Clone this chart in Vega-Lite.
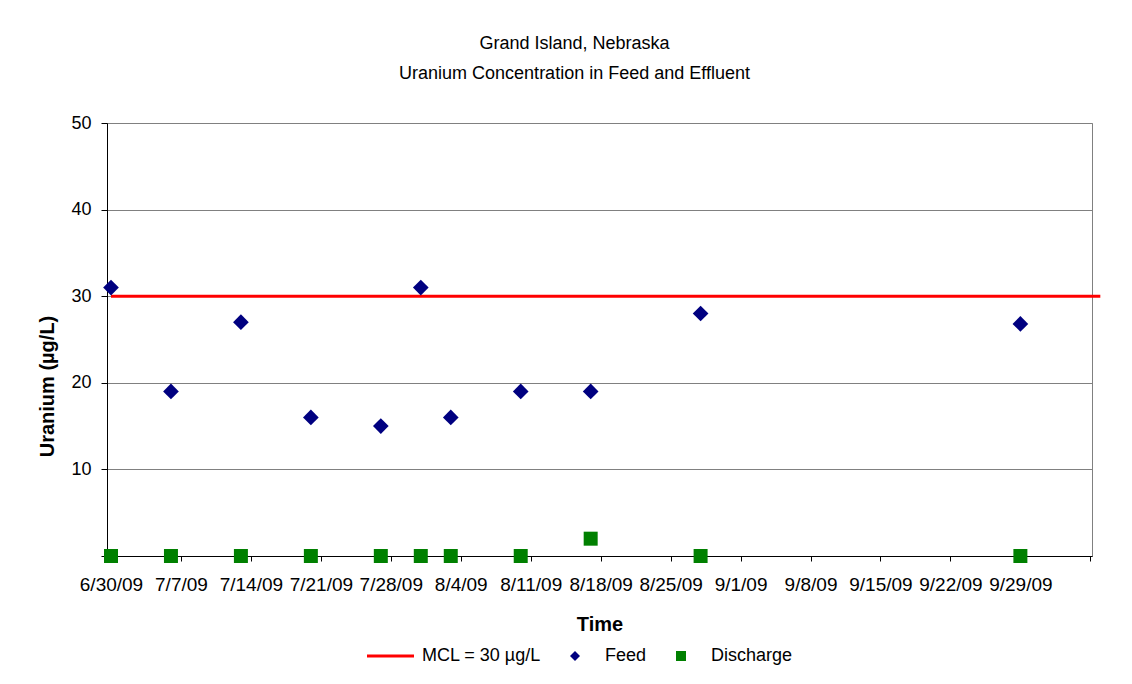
{
  "$schema": "https://vega.github.io/schema/vega-lite/v6.json",
  "autosize": {"type": "none"},
  "padding": {"left": 107, "top": 123, "right": 40, "bottom": 128},
  "width": 985,
  "height": 433,
  "background": "white",
  "config": {
    "font": "Liberation Sans",
    "view": {"stroke": "#808080", "strokeWidth": 1}
  },
  "title": {
    "text": ["Grand Island, Nebraska", "Uranium Concentration in Feed and Effluent"],
    "anchor": "middle",
    "frame": "group",
    "font": "Liberation Sans",
    "fontSize": 18,
    "fontWeight": "normal",
    "color": "black",
    "lineHeight": 30,
    "dx": -25,
    "offset": 31
  },
  "datasets": {
    "mcl": [
      {"date": "2009-06-30T00:00:00", "value": 30},
      {"date": "2009-10-07T00:00:00", "value": 30}
    ],
    "feed": [
      {"date": "2009-06-30T00:00:00", "series": "Feed", "value": 31},
      {"date": "2009-07-06T00:00:00", "series": "Feed", "value": 19},
      {"date": "2009-07-13T00:00:00", "series": "Feed", "value": 27},
      {"date": "2009-07-20T00:00:00", "series": "Feed", "value": 16},
      {"date": "2009-07-27T00:00:00", "series": "Feed", "value": 15},
      {"date": "2009-07-31T00:00:00", "series": "Feed", "value": 31},
      {"date": "2009-08-03T00:00:00", "series": "Feed", "value": 16},
      {"date": "2009-08-10T00:00:00", "series": "Feed", "value": 19},
      {"date": "2009-08-17T00:00:00", "series": "Feed", "value": 19},
      {"date": "2009-08-28T00:00:00", "series": "Feed", "value": 28},
      {"date": "2009-09-29T00:00:00", "series": "Feed", "value": 26.8}
    ],
    "discharge": [
      {"date": "2009-06-30T00:00:00", "series": "Discharge", "value": 0},
      {"date": "2009-07-06T00:00:00", "series": "Discharge", "value": 0},
      {"date": "2009-07-13T00:00:00", "series": "Discharge", "value": 0},
      {"date": "2009-07-20T00:00:00", "series": "Discharge", "value": 0},
      {"date": "2009-07-27T00:00:00", "series": "Discharge", "value": 0},
      {"date": "2009-07-31T00:00:00", "series": "Discharge", "value": 0},
      {"date": "2009-08-03T00:00:00", "series": "Discharge", "value": 0},
      {"date": "2009-08-10T00:00:00", "series": "Discharge", "value": 0},
      {"date": "2009-08-17T00:00:00", "series": "Discharge", "value": 2},
      {"date": "2009-08-28T00:00:00", "series": "Discharge", "value": 0},
      {"date": "2009-09-29T00:00:00", "series": "Discharge", "value": 0}
    ]
  },
  "encoding": {
    "x": {
      "field": "date",
      "type": "temporal",
      "scale": {
        "domain": [
          {"year": 2009, "month": 6, "date": 29, "hours": 14, "minutes": 24},
          {"year": 2009, "month": 10, "date": 6, "hours": 4}
        ],
        "nice": false
      },
      "axis": {
        "values": [
          {"year": 2009, "month": 6, "date": 30},
          {"year": 2009, "month": 7, "date": 7},
          {"year": 2009, "month": 7, "date": 14},
          {"year": 2009, "month": 7, "date": 21},
          {"year": 2009, "month": 7, "date": 28},
          {"year": 2009, "month": 8, "date": 4},
          {"year": 2009, "month": 8, "date": 11},
          {"year": 2009, "month": 8, "date": 18},
          {"year": 2009, "month": 8, "date": 25},
          {"year": 2009, "month": 9, "date": 1},
          {"year": 2009, "month": 9, "date": 8},
          {"year": 2009, "month": 9, "date": 15},
          {"year": 2009, "month": 9, "date": 22},
          {"year": 2009, "month": 9, "date": 29},
          {"year": 2009, "month": 10, "date": 6}
        ],
        "format": "%-m/%-d/%y",
        "labelExpr": "datum.value > datetime(2009, 9, 1) ? '' : datum.label",
        "grid": false,
        "tickSize": 5,
        "tickColor": "black",
        "domainColor": "black",
        "labelColor": "black",
        "labelFontSize": 19,
        "labelPadding": 14,
        "labelFlush": false,
        "labelOverlap": false,
        "labelBound": false,
        "title": "Time",
        "titleColor": "black",
        "titleFontSize": 20,
        "titleFontWeight": "bold",
        "titlePadding": 20
      }
    },
    "y": {
      "field": "value",
      "type": "quantitative",
      "scale": {"domain": [0, 50], "nice": false, "zero": true},
      "axis": {
        "values": [0, 10, 20, 30, 40, 50],
        "labelExpr": "datum.value == 0 ? '' : datum.label",
        "grid": true,
        "gridColor": "#808080",
        "gridWidth": 1,
        "tickSize": 6,
        "tickColor": "black",
        "domainColor": "black",
        "labelColor": "black",
        "labelFontSize": 18,
        "labelPadding": 10,
        "title": "Uranium (µg/L)",
        "titleColor": "black",
        "titleFontSize": 20,
        "titleFontWeight": "bold",
        "titlePadding": 13,
        "titleY": 263
      }
    }
  },
  "layer": [
    {
      "data": {"name": "mcl"},
      "mark": {"type": "line", "color": "#FF0000", "strokeWidth": 3, "clip": false},
      "encoding": {}
    },
    {
      "data": {"name": "feed"},
      "mark": {"type": "point", "filled": true, "size": 246, "opacity": 1, "strokeWidth": 0, "clip": false},
      "encoding": {
        "color": {
          "field": "series",
          "type": "nominal",
          "scale": {"domain": ["MCL = 30 µg/L", "Feed", "Discharge"], "range": ["#FF0000", "#000080", "#008000"]},
          "legend": {
            "title": null,
            "orient": "none",
            "legendX": 276,
            "legendY": 524,
            "direction": "horizontal",
            "columns": 3,
            "columnPadding": 25,
            "symbolSize": 100,
            "symbolStrokeWidth": 0,
            "symbolOpacity": 1,
            "labelOffset": 21,
            "labelFontSize": 18,
            "labelColor": "black",
            "padding": 0
          }
        },
        "shape": {
          "field": "series",
          "type": "nominal",
          "scale": {"domain": ["MCL = 30 µg/L", "Feed", "Discharge"], "range": ["M-5,-0.3H4.4V0.3H-5Z", "diamond", "square"]},
          "legend": {
            "title": null,
            "orient": "none",
            "legendX": 276,
            "legendY": 524,
            "direction": "horizontal",
            "columns": 3,
            "columnPadding": 25,
            "symbolSize": 100,
            "symbolStrokeWidth": 0,
            "symbolOpacity": 1,
            "labelOffset": 21,
            "labelFontSize": 18,
            "labelColor": "black",
            "padding": 0
          }
        }
      }
    },
    {
      "data": {"name": "discharge"},
      "mark": {"type": "point", "filled": true, "size": 196, "opacity": 1, "strokeWidth": 0, "clip": false},
      "encoding": {
        "color": {"field": "series", "type": "nominal"},
        "shape": {"field": "series", "type": "nominal"}
      }
    }
  ]
}
